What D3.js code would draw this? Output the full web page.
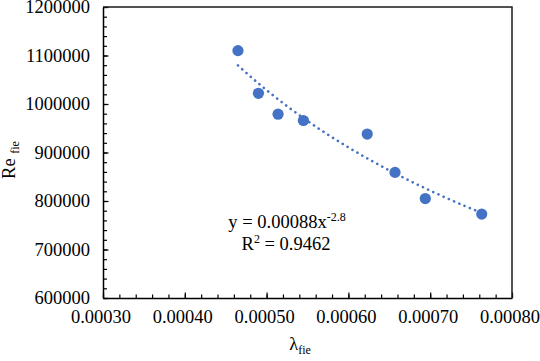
<!DOCTYPE html>
<html>
<head>
<meta charset="utf-8">
<script src="https://cdn.jsdelivr.net/npm/d3@7"></script>
<style>
  body { margin: 0; background: #fff; }
  svg { display: block; }
</style>
</head>
<body>
<div id="chart"></div>
<script>
// data
var lambdaFie = [0.000465, 0.000490, 0.000514, 0.000545, 0.000623, 0.000657, 0.000694, 0.000763];
var reFie = [1110000, 1022000, 979000, 966000, 938000, 859000, 805000, 773000];
var xTicks = [0.0003, 0.0004, 0.0005, 0.0006, 0.0007, 0.0008];
var yTicks = [600000, 700000, 800000, 900000, 1000000, 1100000, 1200000];
var eqCoef = "0.00088", eqPow = "-2.8", rSquared = "0.9462";

const serif = "'Liberation Serif', 'DejaVu Serif', serif";

function drawChart() {
    const width = 540, height = 361;
    const left = 103, top = 7, right = 512, bottom = 298;
    const blue = "#4472c4";

    const svg = d3.select("#chart")
        .append("svg")
        .attr("width", width)
        .attr("height", height)
        .style("font-family", serif);

    const x = d3.scaleLinear().domain([0.0003, 0.0008]).range([left, right]);
    const y = d3.scaleLinear().domain([600000, 1200000]).range([bottom, top]);

    // minor ticks (inside)
    svg.append("g")
        .attr("transform", "translate(0," + bottom + ")")
        .call(d3.axisBottom(x).tickValues(d3.range(15, 41).map(d => d * 0.00002)).tickSize(-3.5).tickFormat(""))
        .call(g => g.select(".domain").remove());
    svg.append("g")
        .attr("transform", "translate(" + left + ",0)")
        .call(d3.axisLeft(y).tickValues(d3.range(30, 61).map(d => d * 20000)).tickSize(-4).tickFormat(""))
        .call(g => g.select(".domain").remove());

    // major axes
    const xAxis = svg.append("g")
        .attr("transform", "translate(0," + bottom + ")")
        .call(d3.axisBottom(x).tickValues(xTicks).tickSizeInner(-5.5).tickSizeOuter(0)
            .tickPadding(12).tickFormat(d3.format(".5f")));
    const yAxis = svg.append("g")
        .attr("transform", "translate(" + left + ",0)")
        .call(d3.axisLeft(y).tickValues(yTicks).tickSizeInner(-5.5).tickSizeOuter(0)
            .tickPadding(13).tickFormat(d3.format("d")));
    svg.selectAll("g").attr("font-family", null).attr("font-size", null);
    [xAxis, yAxis].forEach(function (g) {
        g.selectAll("text").style("font-family", serif).style("font-size", "18.5px").attr("fill", "#000");
        g.select(".domain").attr("stroke", "#000").attr("stroke-width", 1.5);
    });
    xAxis.selectAll("text").attr("x", -2.5);
    svg.selectAll(".tick line").attr("stroke", "#000").attr("stroke-width", 1.2);

    // frame top/right
    svg.append("path")
        .attr("d", "M" + left + "," + top + "H" + right + "V" + bottom)
        .attr("fill", "none")
        .attr("stroke", "#1a1a1a")
        .attr("stroke-width", 1.5);

    // power trendline, least squares in log space
    const lx = lambdaFie.map(Math.log), ly = reFie.map(Math.log);
    const mx = d3.mean(lx), my = d3.mean(ly);
    const b = d3.sum(lx, (v, i) => (v - mx) * (ly[i] - my)) / d3.sum(lx, v => (v - mx) * (v - mx));
    const a = Math.exp(my - b * mx);
    const [x0, x1] = d3.extent(lambdaFie);
    const fit = d3.range(0, 61).map(i => {
        const xv = x0 + (x1 - x0) * i / 60;
        return [xv, a * Math.pow(xv, b)];
    });
    svg.append("path")
        .datum(fit)
        .attr("fill", "none")
        .attr("stroke", blue)
        .attr("stroke-width", 2.6)
        .attr("stroke-linecap", "round")
        .attr("stroke-dasharray", "0.1,5.6")
        .attr("d", d3.line().x(d => x(d[0])).y(d => y(d[1])));

    // points
    svg.selectAll("circle.pt")
        .data(lambdaFie)
        .enter()
        .append("circle")
        .attr("class", "pt")
        .attr("cx", d => x(d))
        .attr("cy", (d, i) => y(reFie[i]))
        .attr("r", 5.6)
        .attr("fill", blue);

    // equation
    const eq = svg.append("text")
        .attr("x", 287)
        .attr("y", 228)
        .attr("text-anchor", "middle")
        .style("font-size", "18.5px");
    eq.append("tspan").text("y = " + eqCoef + "x");
    eq.append("tspan").style("font-size", "12px").attr("dy", -7).text(eqPow);
    const r2 = svg.append("text")
        .attr("x", 286)
        .attr("y", 250)
        .attr("text-anchor", "middle")
        .style("font-size", "18.5px");
    r2.append("tspan").text("R");
    r2.append("tspan").style("font-size", "12px").attr("dy", -7).text("2");
    r2.append("tspan").attr("dy", 7).text(" = " + rSquared);

    // axis titles
    const xt = svg.append("text")
        .attr("x", 300)
        .attr("y", 350)
        .attr("text-anchor", "middle")
        .style("font-size", "18.5px");
    xt.append("tspan").text("λ");
    xt.append("tspan").style("font-size", "12px").attr("dy", 4).text("fie");

    const yt = svg.append("text")
        .attr("transform", "translate(15,160) rotate(-90)")
        .attr("text-anchor", "middle")
        .style("font-size", "18.5px");
    yt.append("tspan").text("Re ");
    yt.append("tspan").style("font-size", "12px").attr("dy", 4).text("fie");
}

window.addEventListener('load', function () {
    drawChart();
});
</script>
</body>
</html>
